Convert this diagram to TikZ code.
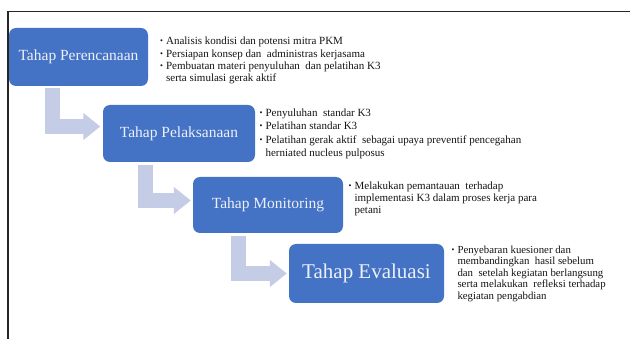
\documentclass[tikz,border=0pt]{standalone}
\usepackage{fontspec}
\setmainfont{Liberation Serif}
\usetikzlibrary{arrows.meta,calc}
\definecolor{boxblue}{RGB}{68,114,196}
\definecolor{boxtext}{RGB}{236,240,248}
\definecolor{flowcol}{RGB}{196,204,230}
\definecolor{txtcol}{RGB}{20,20,20}
\newcommand{\bul}{\raisebox{0.25ex}{\scalebox{0.75}{\textbullet}}}
\begin{document}
\begin{tikzpicture}[x=1pt,y=-1pt,
  stage/.style={draw=none, fill=boxblue, rounded corners=7pt, text=boxtext,
    inner sep=0pt, font=\fontsize{15.5}{18}\selectfont},
  bigstage/.style={stage, font=\fontsize{21}{24}\selectfont},
  flow/.style={draw=flowcol, line width=15.5pt, line join=miter,
    -{Triangle[length=17pt,width=26pt]}},
  notes/.style={anchor=base west, inner sep=0pt, text=txtcol},
  frame/.style={draw=black!85, line width=1.2pt}]
\useasboundingbox (0,0) rectangle (630,339);
\fill[white] (0,0) rectangle (630,339);
\draw[frame] (8,339) -- (8,11.5) -- (630,11.5);

\node[stage, minimum width=139pt, minimum height=58pt] (b1) at (78.5,57) {Tahap Perencanaan};
\node[stage, minimum width=152pt, minimum height=57pt] (b2) at (179,133.5) {Tahap Pelaksanaan};
\node[stage, minimum width=150pt, minimum height=56pt] (b3) at (268,205) {Tahap Monitoring};
\node[bigstage, minimum width=155pt, minimum height=59pt] (b4) at (366.5,273.5) {Tahap Evaluasi};

\draw[flow] ($(b1.south west)+(43.5,1.5)$) |- ($(b2.west)+(-2.5,-7)$);
\draw[flow] ($(b2.south west)+(42.5,2.5)$) |- ($(b3.west)+(-2,-4.5)$);
\draw[flow] ($(b3.south west)+(45.5,2.5)$) |- ($(b4.west)+(-2,0)$);

\node[notes, font=\fontsize{11}{12.3}\selectfont] (n1) at (160,45) {\begin{tabular}[t]{@{}l@{\hspace{3pt}}l@{}}
\bul & Analisis kondisi dan potensi mitra PKM\\
\bul & Persiapan konsep dan\ \ administras kerjasama\\
\bul & Pembuatan materi penyuluhan\ \ dan pelatihan K3\\
 & serta simulasi gerak aktif
\end{tabular}};
\node[notes, font=\fontsize{11}{13.5}\selectfont] (n2) at (259.5,116.5) {\begin{tabular}[t]{@{}l@{\hspace{3pt}}l@{}}
\bul & Penyuluhan\ \ standar K3\\
\bul & Pelatihan standar K3\\
\bul & Pelatihan gerak aktif\ \ sebagai upaya\ preventif pencegahan\\
 & herniated nucleus pulposus
\end{tabular}};
\node[notes, font=\fontsize{11}{12}\selectfont] (n3) at (348.5,189.5) {\begin{tabular}[t]{@{}l@{\hspace{3pt}}l@{}}
\bul & Melakukan pemantauan\ \ terhadap\\
 & implementasi K3 dalam proses kerja para\\
 & petani
\end{tabular}};
\node[notes, font=\fontsize{10.8}{11.5}\selectfont] (n4) at (451.5,253.5) {\begin{tabular}[t]{@{}l@{\hspace{3pt}}l@{}}
\bul & Penyebaran kuesioner dan\\
 & membandingkan\ \ hasil sebelum\\
 & dan\ \ setelah kegiatan berlangsung\\
 & serta melakukan\ \ refleksi terhadap\\
 & kegiatan pengabdian
\end{tabular}};
\end{tikzpicture}
\end{document}
